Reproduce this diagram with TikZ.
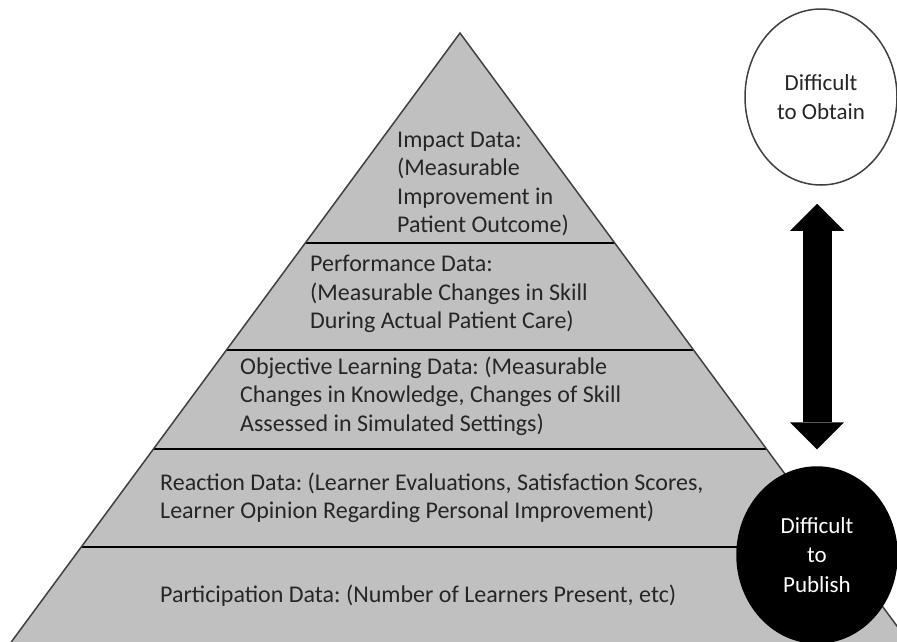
\documentclass[tikz,border=0pt]{standalone}
\usepackage{fontspec}
\setmainfont{Carlito}
\usetikzlibrary{shapes.geometric, arrows.meta, positioning}
\frenchspacing

\definecolor{pyrgray}{RGB}{192,192,192}
\definecolor{edgegray}{RGB}{64,64,64}
\definecolor{textgray}{RGB}{38,38,38}

\begin{document}
\begin{tikzpicture}[
    x=1pt, y=-1pt,
    label/.style={anchor=west, inner sep=0pt, align=left, text=textgray, font=\fontsize{24}{28.5}\selectfont},
    band/.style={line width=1.5pt, black},
    bubble/.style={ellipse, draw=edgegray, line width=1.5pt, minimum width=152pt, minimum height=176pt, align=center, inner sep=0pt, font=\fontsize{23}{29.5}\selectfont},
    fatarrow/.style={line width=29pt, {Triangle[width=54pt,length=27pt,line width=0pt]}-{Triangle[width=54pt,length=27pt,line width=0pt]}, shorten <=18pt, shorten >=17pt}
]
\useasboundingbox (0,0) rectangle (897,641);
\clip (0,0) rectangle (897,641);

% Pyramid
\coordinate (apex) at (460,33);
\coordinate (baseL) at (-2,660);
\coordinate (baseR) at (922,660);
\fill[pyrgray] (apex) -- (baseR) -- (baseL) -- cycle;
\foreach \y in {243,350,449,547}
    \draw[band] ({460-(\y-33)*0.737},\y) -- ({460+(\y-33)*0.737},\y);
\draw[edgegray, line width=1.5pt] (baseL) -- (apex) -- (baseR);

% Levels
\node[label] (impact) at (397,184) {Impact Data:\\(Measurable\\Improvement in\\Patient Outcome)};
\node[label] (perf) at (310,294) {Performance Data:\\(Measurable Changes in Skill\\During Actual Patient Care)};
\node[label] (obj) at (240,396) {Objective Learning Data: (Measurable\\Changes in Knowledge, Changes of Skill\\Assessed in Simulated Settings)};
\node[label] (react) at (160,498) {Reaction Data: (Learner Evaluations, Satisfaction Scores,\\Learner Opinion Regarding Personal Improvement)};
\node[label] (part) at (160,596) {Participation Data: (Number of Learners Present, etc)};

% Difficulty
\node[bubble, fill=white, text=textgray] (obtain) at (821,97) {Difficult\\to Obtain};
\node[bubble, fill=black, draw=black, text=white, minimum width=160pt] (publish) at (817,555) {Difficult\\to\\Publish};

% Connections
\draw[fatarrow] (publish |- obtain.south) -- (publish.north);

\end{tikzpicture}
\end{document}
